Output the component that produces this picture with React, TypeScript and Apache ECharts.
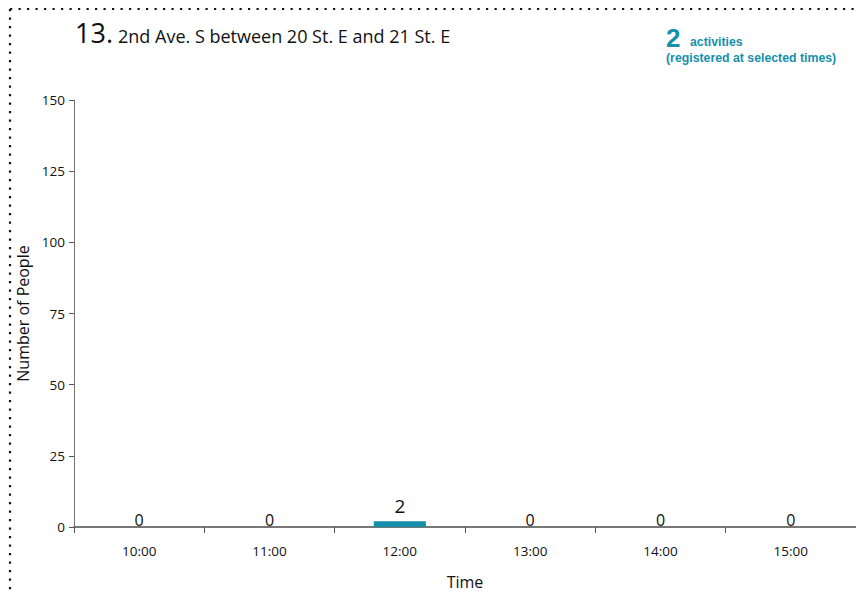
import React, { useEffect, useRef } from "react";
import * as echarts from "echarts";

const categories = ["10:00", "11:00", "12:00", "13:00", "14:00", "15:00"];
const counts = [0, 0, 2, 0, 0, 0];
const yTicks = [0, 25, 50, 75, 100, 125, 150];
const totalActivities = 2;

const TEAL = "#1590ab";
const FONT = "'Open Sans', 'DejaVu Sans', sans-serif";
const BOLD = "'Liberation Sans', Arial, sans-serif";

export default function App() {
  const ref = useRef<HTMLDivElement>(null);
  useEffect(() => {
    if (!ref.current) return;
    const chart = echarts.init(ref.current, null, { renderer: "svg" });
    chart.setOption({
      animation: false,
      backgroundColor: "#ffffff",
      grid: { left: 74, top: 100, width: 788, height: 433, containLabel: false },
      xAxis: {
        type: "category",
        data: categories,
        name: "Time",
        nameLocation: "middle",
        nameGap: 47,
        nameTextStyle: { fontFamily: FONT, fontSize: 16, color: "#111" },
        axisLine: { lineStyle: { color: "#777", width: 2 } },
        axisTick: { show: true, length: 6, alignWithLabel: false, lineStyle: { color: "#555" } },
        axisLabel: { fontFamily: FONT, fontSize: 13.5, color: "#111", margin: 17 },
      },
      yAxis: {
        type: "value",
        min: yTicks[0],
        max: yTicks[yTicks.length - 1],
        interval: yTicks[1] - yTicks[0],
        name: "Number of People",
        nameLocation: "middle",
        nameGap: 40,
        nameRotate: 90,
        nameTextStyle: { fontFamily: FONT, fontSize: 16, color: "#111" },
        axisLine: { show: true, lineStyle: { color: "#777", width: 1 } },
        axisTick: { show: true, length: 5, lineStyle: { color: "#555" } },
        axisLabel: { fontFamily: FONT, fontSize: 13.5, color: "#111", margin: 9 },
        splitLine: { show: false },
      },
      series: [
        {
          type: "bar",
          data: counts.map((v) => ({
            value: v,
            label: v > 0 ? { fontSize: 19, distance: 6 } : undefined,
          })),
          barWidth: "40%",
          itemStyle: { color: TEAL },
          label: {
            show: true,
            position: "top",
            distance: -1,
            fontFamily: FONT,
            fontSize: 16,
            color: "#111",
          },
        },
      ],
      graphic: [
        {
          type: "line",
          shape: { x1: 10, y1: 9, x2: 856, y2: 9 },
          style: { stroke: "#111", lineWidth: 2.2, lineDash: [2.2, 6.3] },
        },
        {
          type: "line",
          shape: { x1: 10, y1: 9, x2: 10, y2: 595 },
          style: { stroke: "#111", lineWidth: 2.2, lineDash: [2.2, 6.3] },
        },
        {
          type: "text",
          left: 75,
          top: 19,
          style: {
            text: "13.",
            font: `27px ${FONT}`,
            fill: "#111",
          },
        },
        {
          type: "text",
          left: 118,
          top: 27,
          style: {
            text: "2nd Ave. S between 20 St. E and 21 St. E",
            font: `18px ${FONT}`,
            fill: "#111",
          },
        },
        {
          type: "text",
          left: 666,
          top: 25,
          style: {
            text: String(totalActivities),
            font: `bold 26px ${BOLD}`,
            fill: TEAL,
          },
        },
        {
          type: "text",
          left: 690,
          top: 36,
          style: {
            text: "activities",
            font: `bold 12.3px ${BOLD}`,
            fill: TEAL,
          },
        },
        {
          type: "text",
          left: 666,
          top: 52,
          style: {
            text: "(registered at selected times)",
            font: `bold 12.3px ${BOLD}`,
            fill: TEAL,
          },
        },
      ],
    });
    return () => chart.dispose();
  }, []);
  return <div ref={ref} style={{ width: 856, height: 595, position: "fixed", left: 0, top: 0 }} />;
}
